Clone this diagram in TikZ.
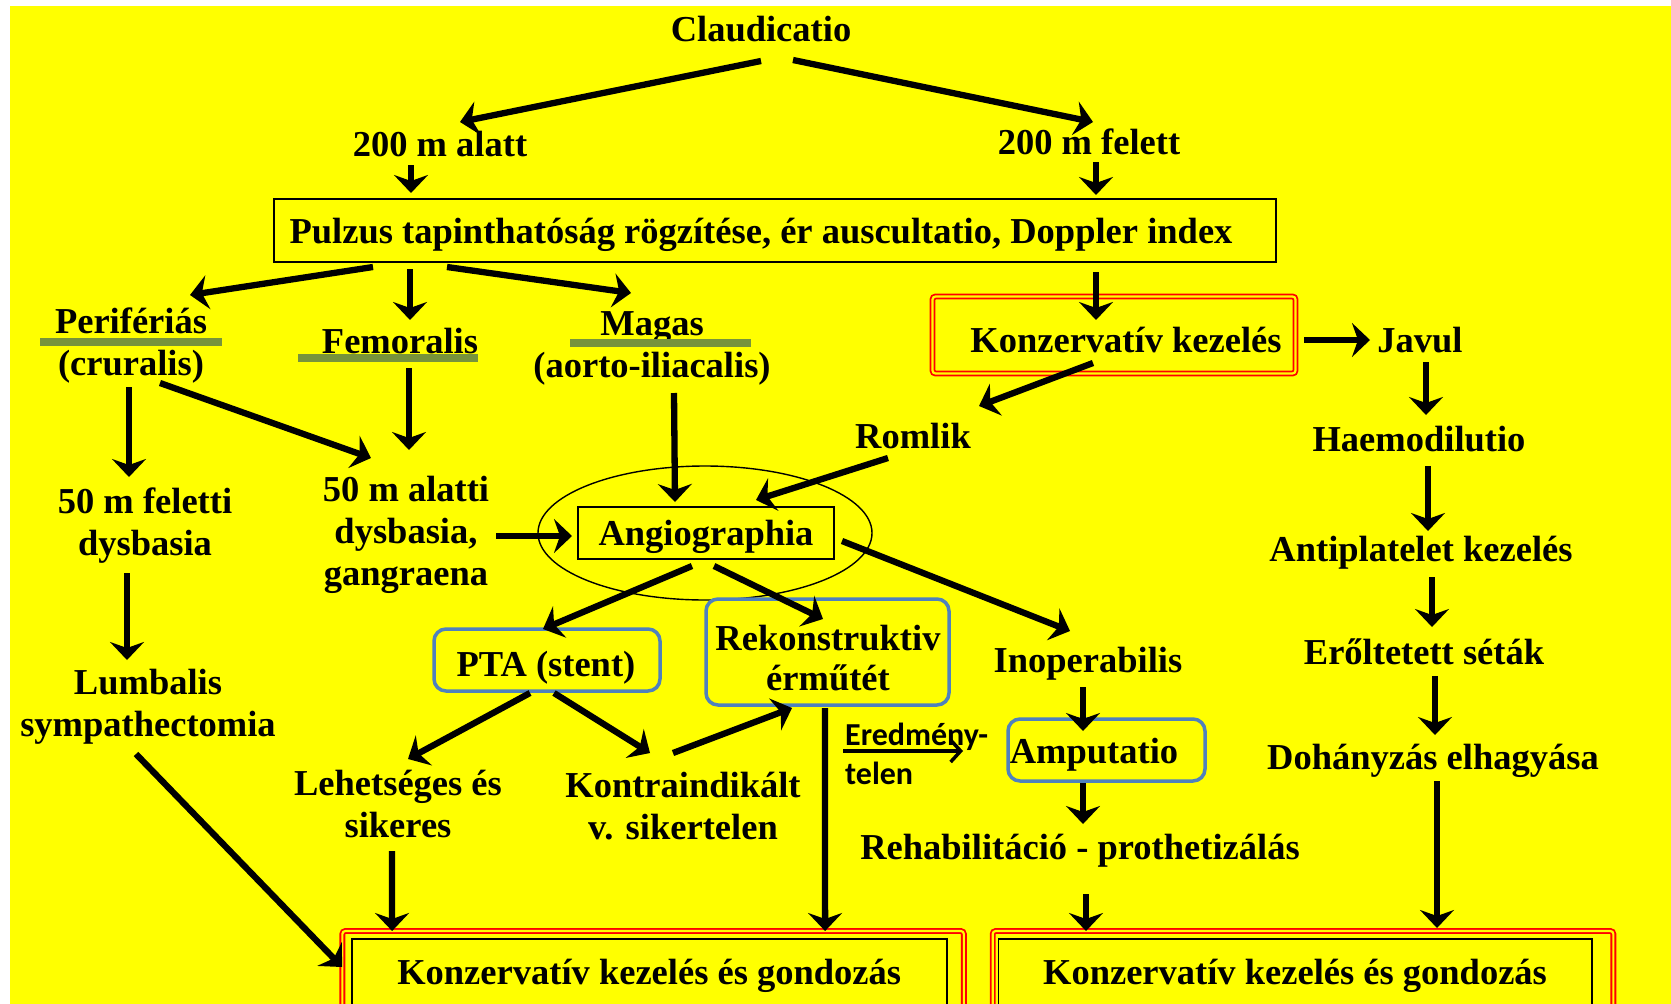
\documentclass[tikz,border=0pt]{standalone}
\usepackage{fontspec}
\setmainfont{Liberation Serif}
\newfontfamily\calibrifont{Carlito}
\usetikzlibrary{arrows.meta,calc,shapes.geometric}
\definecolor{bgyellow}{RGB}{255,255,0}
\definecolor{framered}{RGB}{255,0,0}
\definecolor{boxblue}{RGB}{79,129,189}
\definecolor{barolive}{RGB}{119,147,60}
\def\fatarrow{\draw[line width=6.3pt,-{Stealth[length=18pt,width=34pt,inset=6pt]}]}
\def\olivebar{\draw[color=barolive,line width=8pt]}
\def\bluebox{\node[draw=boxblue,line width=3.5pt,rounded corners=12pt]}
\def\redframe{\node[draw=framered,double=bgyellow,double distance=2.2pt,line width=1.8pt,rounded corners=3pt]}

\begin{document}
\begin{tikzpicture}[x=1pt,y=-1pt,
  txt/.style={font=\bfseries\fontsize{36.5}{42}\selectfont,align=center,inner sep=0pt},
  one/.style={txt,text height=30pt,text depth=6pt},
  boxed/.style={one,draw,line width=1.6pt}]
\useasboundingbox (0,0) rectangle (1671,1004);
\clip (0,0) rectangle (1671,1004);
\fill[white] (0,0) rectangle (1671,1004);
\fill[bgyellow] (10,6) rectangle (1671,1004);

% top of the tree
\node[one] (claud) at (761,29) {Claudicatio};
\node[one] (alatt) at (440,144) {200 m alatt};
\node[one] (felett) at (1089,142) {200 m felett};
\node[boxed,minimum width=1002pt,minimum height=63pt] (pulzus) at (775,230.5) {};
\node[one] (pulzustxt) at (761,231) {Pulzus tapinthatóság rögzítése, ér auscultatio, Doppler index};
\node[txt] (perif) at (131,346) {Perifériás\\(cruralis)};
\node[one] (femor) at (400,341) {Femoralis};
\node[txt] (magas) at (652,348) {Magas\\(aorto-iliacalis)};
\redframe[minimum width=363pt,minimum height=77pt] (konz) at (1114,335) {};
\node[one] (konztxt) at (1126,340) {Konzervatív kezelés};
\node[one] (javul) at (1420,340) {Javul};
\node[one] (romlik) at (913,436) {Romlik};

% right column
\node[one] (haemo) at (1419,439) {Haemodilutio};
\node[one] (antipl) at (1421,549) {Antiplatelet kezelés};
\node[one] (erolt) at (1424,652) {Erőltetett séták};
\node[one] (dohany) at (1433,757) {Dohányzás elhagyása};

% middle
\node[txt] (feletti) at (145,526) {50 m feletti\\dysbasia};
\node[txt] (alatti) at (406,535) {50 m alatti\\dysbasia,\\gangraena};
\node[draw,ellipse,line width=1.4pt,minimum width=334pt,minimum height=134pt,inner sep=0pt] (ell) at (705,533) {};
\node[boxed,minimum width=256pt,minimum height=52pt] (angio) at (706,533) {Angiographia};
\bluebox[minimum width=226pt,minimum height=62pt] (pta) at (547,660) {};
\node[one] (ptatxt) at (546,664) {PTA (stent)};
\bluebox[minimum width=243pt,minimum height=106pt] (rekon) at (827.5,652) {};
\node[txt] (rekontxt) at (828,658) {Rekonstruktiv\\[-2pt]érműtét};
\node[one] (inop) at (1088,660) {Inoperabilis};
\bluebox[minimum width=197pt,minimum height=62pt] (amput) at (1106.5,750) {};
\node[one] (amputtxt) at (1094,751) {Amputatio};
\node[txt,font=\calibrifont\bfseries\fontsize{32}{39}\selectfont,align=left,anchor=west] (ered) at (845,754) {Eredmény-\\telen};
\node[one] (rehab) at (1080,847) {Rehabilitáció - prothetizálás};
\node[txt] (lehet) at (398,804) {Lehetséges és\\sikeres};
\node[txt] (kontra) at (683,806) {Kontraindikált\\v. sikertelen};
\node[txt] (lumb) at (148,707) {Lumbalis\\sympathectomia};

% bottom boxes
\redframe[minimum width=621.5pt,minimum height=89pt] (blframe) at (653.1,975.5) {};
\node[boxed,minimum width=595pt,minimum height=66pt] (bl) at (649.2,972) {Konzervatív kezelés és gondozás};
\redframe[minimum width=620.7pt,minimum height=89pt] (brframe) at (1303,975.5) {};
\node[boxed,minimum width=593.4pt,minimum height=66pt] (br) at (1295,972) {Konzervatív kezelés és gondozás};

\olivebar ($(perif)+(-91,-4)$) -- ($(perif)+(91,-4)$);
\olivebar ($(femor)+(-102,17)$) -- ($(femor)+(78,17)$);
\olivebar ($(magas)+(-82,-5)$) -- ($(magas)+(99,-5)$);

\fatarrow ($(claud)+(0,32)$) -- ($(alatt)+(20,-22)$);
\fatarrow ($(claud)+(32,31)$) -- ($(felett)+(4,-20)$);
\fatarrow ($(alatt)+(-29,21)$) -- ($(pulzus)+(-364,-37.5)$);
\fatarrow ($(felett)+(7,20)$) -- ($(pulzus)+(321,-35.5)$);
\fatarrow ($(pulzus)+(-402,36.5)$) -- ($(perif)+(59,-51)$);
\fatarrow ($(pulzus)+(-365,38.5)$) -- ($(femor)+(10,-21)$);
\fatarrow ($(pulzus)+(-328,36.5)$) -- ($(magas)+(-21,-55)$);
\fatarrow ($(pulzus)+(321,41.5)$) -- ($(konz)+(-18,-15)$);
\fatarrow ($(konz)+(190,5)$) -- ($(javul)+(-50,0)$);
\fatarrow ($(javul)+(6,22)$) -- ($(haemo)+(7,-24)$);
\fatarrow ($(haemo)+(9,27)$) -- ($(antipl)+(7,-18)$);
\fatarrow ($(antipl)+(11,28)$) -- ($(erolt)+(8,-25)$);
\fatarrow ($(erolt)+(11,24)$) -- ($(dohany)+(2,-22)$);
\fatarrow ($(dohany)+(4,24)$) -- ($(brframe)+(134,-47.5)$);
\fatarrow ($(konz)+(-21,28)$) -- ($(romlik)+(66,-30)$);
\fatarrow ($(romlik)+(-25,22)$) -- ($(angio)+(50,-33)$);
\fatarrow ($(magas)+(22,45)$) -- ($(angio)+(-31,-31)$);
\fatarrow ($(perif)+(29,37)$) -- ($(alatti)+(-35,-77)$);
\fatarrow ($(perif)+(-2,41)$) -- ($(feletti)+(-16,-49)$);
\fatarrow ($(femor)+(9,27)$) -- ($(alatti)+(3,-85)$);
\fatarrow ($(feletti)+(-18,47)$) -- ($(lumb)+(-21,-47)$);
\fatarrow ($(lumb)+(-12,47)$) -- ($(blframe)+(-311,-8.5)$);
\fatarrow ($(alatti)+(90,1)$) -- ($(angio)+(-134,3)$);
\fatarrow ($(angio)+(-14,33)$) -- ($(pta)+(-4,-31)$);
\fatarrow ($(angio)+(8,33)$) -- ($(rekon)+(-4.5,-33)$);
\fatarrow ($(angio)+(136,8)$) -- ($(inop)+(-18,-29)$);
\fatarrow ($(pta)+(-17,33)$) -- ($(lehet)+(10,-45)$);
\fatarrow ($(pta)+(7,33)$) -- ($(kontra)+(-33,-53)$);
\fatarrow ($(kontra)+(-10,-53)$) -- ($(rekon)+(-35.5,56)$);
\fatarrow ($(lehet)+(-6,47)$) -- ($(blframe)+(-261,-44.5)$);
\fatarrow ($(rekon)+(-2.5,56)$) -- ($(blframe)+(172,-44.5)$);
\fatarrow ($(inop)+(-5,27)$) -- ($(amput)+(-23.5,-19)$);
\fatarrow ($(amput)+(-23.5,33)$) -- ($(rehab)+(3,-23)$);
\fatarrow ($(rehab)+(6,47)$) -- ($(brframe)+(-217,-44.5)$);
\draw[line width=3.5pt,-{Straight Barb[length=10pt,width=22pt]}] ($(ered.west)+(-2,-3)$) -- ($(amput)+(-143.5,1)$);
\end{tikzpicture}
\end{document}
